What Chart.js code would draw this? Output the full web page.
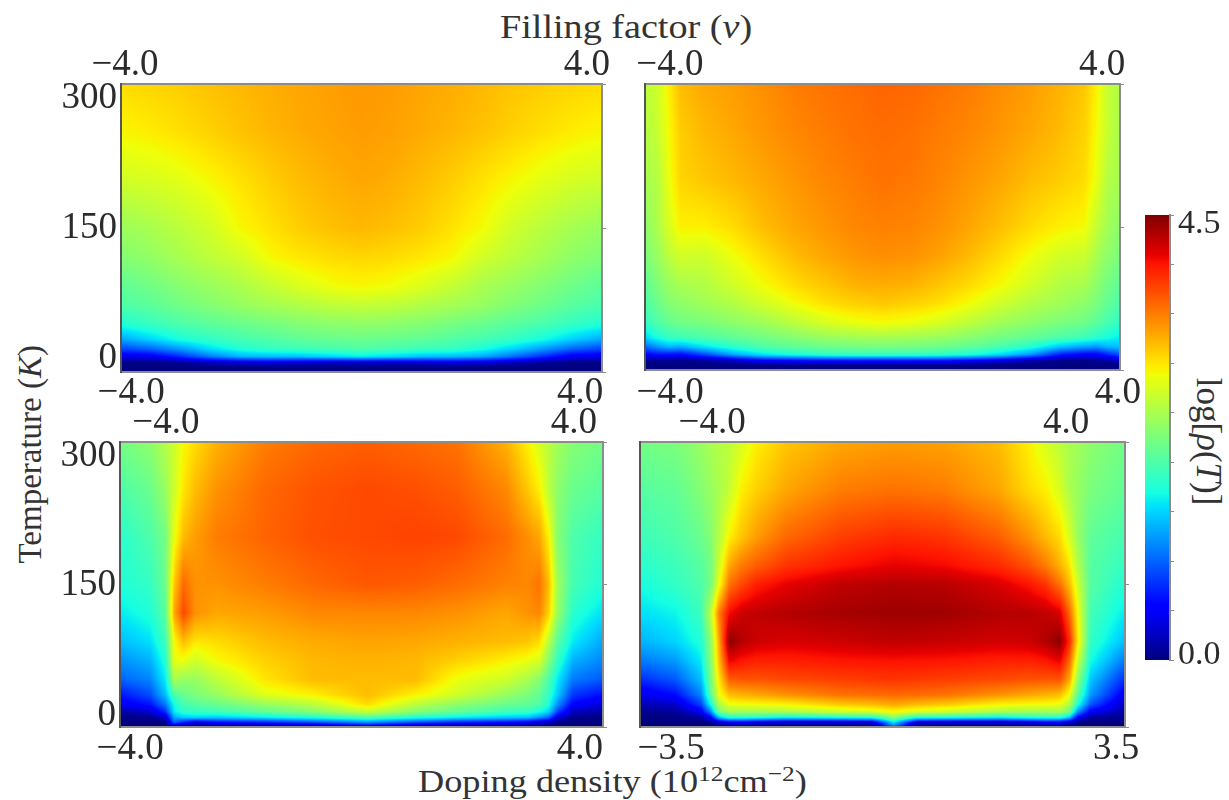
<!DOCTYPE html>
<html>
<head>
<meta charset="utf-8">
<script src="https://cdn.jsdelivr.net/npm/chart.js@4"></script>
<style>
    html, body { margin: 0; background: #fff; }
    body { width: 1229px; height: 800px; position: relative; overflow: hidden; font-family: "Liberation Serif", serif; color: #333; }
    canvas { position: absolute; }
    .label { position: absolute; white-space: nowrap; line-height: 1; }
    .label sup { font-size: 0.7em; line-height: 0; }
</style>
</head>
<body>
<div class="label" style="left:500px; top:11px; font-size:33px; transform-origin:left center; transform:scaleX(1.156);">Filling factor (<i>&nu;</i>)</div>
<div class="label" style="left:-70px; top:447px; width:200px; text-align:center; font-size:33px; transform:rotate(-90deg);">Temperature (<i>K</i>)</div>
<div class="label" style="left:418px; top:766px; font-size:31px; transform-origin:left center; transform:scaleX(1.17);">Doping density (10<sup>12</sup>cm<sup>&minus;2</sup>)</div>
<div class="label" style="left:1138px; top:424px; width:140px; text-align:center; font-size:35px; transform:rotate(90deg);">log[<i>&rho;</i>(<i>T</i>)]</div>

<canvas id="panel1"></canvas>
<canvas id="panel2"></canvas>
<canvas id="panel3"></canvas>
<canvas id="panel4"></canvas>
<canvas id="colorbar"></canvas>

<script>
// temperature nodes, top row first
const tempRows = [300, 250, 200, 150, 120, 90, 70, 50, 34, 24, 16, 10, 5, 0];
const tempRowsHot = [300, 250, 200, 170, 150, 120, 90, 70, 50, 34, 24, 16, 10, 5, 0];

const doping1 = [-4, -3.5, -3, -2.5, -2, -1.5, -1, -0.5, 0, 0.5, 1, 1.5, 2, 2.5, 3, 3.5, 4];
const rho1 = [
    [3.05, 3.08, 3.12, 3.18, 3.22, 3.27, 3.31, 3.34, 3.37, 3.35, 3.31, 3.27, 3.22, 3.16, 3.12, 3.08, 3.05],
    [2.92, 2.97, 3.03, 3.1, 3.17, 3.23, 3.28, 3.32, 3.35, 3.33, 3.28, 3.23, 3.17, 3.1, 3.03, 2.97, 2.92],
    [2.72, 2.75, 2.82, 2.92, 3.02, 3.12, 3.2, 3.26, 3.3, 3.27, 3.2, 3.12, 3.02, 2.92, 2.82, 2.74, 2.7],
    [2.42, 2.5, 2.6, 2.72, 2.92, 3.02, 3.12, 3.18, 3.22, 3.18, 3.12, 3.02, 2.9, 2.7, 2.58, 2.48, 2.4],
    [2.3, 2.38, 2.5, 2.62, 2.72, 2.92, 3.0, 3.05, 3.08, 3.05, 3.0, 2.92, 2.72, 2.6, 2.48, 2.36, 2.28],
    [2.1, 2.2, 2.32, 2.42, 2.52, 2.65, 2.78, 2.88, 2.92, 2.88, 2.78, 2.65, 2.5, 2.4, 2.3, 2.18, 2.08],
    [2.0, 2.08, 2.2, 2.3, 2.4, 2.48, 2.55, 2.62, 2.65, 2.62, 2.55, 2.48, 2.4, 2.28, 2.18, 2.06, 1.98],
    [1.75, 1.88, 2.0, 2.08, 2.15, 2.22, 2.3, 2.34, 2.36, 2.34, 2.3, 2.22, 2.15, 2.06, 1.98, 1.86, 1.75],
    [1.3, 1.5, 1.72, 1.85, 1.95, 2.02, 2.1, 2.14, 2.16, 2.14, 2.1, 2.02, 1.95, 1.85, 1.7, 1.48, 1.3],
    [0.85, 1.0, 1.25, 1.55, 1.75, 1.85, 1.9, 1.95, 2.0, 1.95, 1.9, 1.85, 1.72, 1.5, 1.25, 1.0, 0.85],
    [0.4, 0.45, 0.75, 1.1, 1.35, 1.4, 1.4, 1.5, 1.6, 1.5, 1.4, 1.38, 1.3, 1.05, 0.75, 0.45, 0.4],
    [0.02, 0.03, 0.1, 0.25, 0.35, 0.4, 0.35, 0.3, 0.3, 0.3, 0.35, 0.4, 0.35, 0.25, 0.1, 0.04, 0.02],
    [0, 0, 0, 0, 0, 0.02, 0.02, 0.02, 0.03, 0.02, 0.02, 0.02, 0, 0, 0, 0, 0],
    [0, 0, 0, 0, 0, 0, 0, 0, 0, 0, 0, 0, 0, 0, 0, 0, 0]
];

const doping2 = [-4, -3.8, -3.6, -3.4, -3, -2.5, -2, -1.5, -1, -0.5, 0, 0.5, 1, 1.5, 2, 2.5, 3, 3.4, 3.6, 3.8, 4];
const rho2 = [
    [2.6, 2.7, 2.95, 3.2, 3.3, 3.35, 3.42, 3.5, 3.55, 3.58, 3.62, 3.6, 3.55, 3.5, 3.42, 3.35, 3.25, 3.15, 2.95, 2.65, 2.55],
    [2.55, 2.65, 2.9, 3.12, 3.22, 3.3, 3.38, 3.45, 3.5, 3.55, 3.58, 3.56, 3.5, 3.45, 3.38, 3.3, 3.2, 3.1, 2.9, 2.65, 2.5],
    [2.5, 2.55, 2.85, 3.08, 3.15, 3.22, 3.3, 3.38, 3.45, 3.5, 3.55, 3.52, 3.46, 3.38, 3.3, 3.2, 3.12, 3.05, 2.85, 2.55, 2.5],
    [2.35, 2.5, 2.75, 2.95, 2.95, 3.05, 3.2, 3.3, 3.38, 3.45, 3.48, 3.46, 3.4, 3.3, 3.18, 3.05, 2.95, 2.9, 2.65, 2.45, 2.35],
    [2.25, 2.4, 2.6, 2.72, 2.7, 2.88, 3.05, 3.2, 3.3, 3.38, 3.42, 3.4, 3.32, 3.2, 3.05, 2.88, 2.72, 2.68, 2.5, 2.35, 2.25],
    [2.1, 2.25, 2.4, 2.5, 2.55, 2.72, 2.9, 3.05, 3.15, 3.25, 3.28, 3.25, 3.15, 3.05, 2.9, 2.72, 2.55, 2.5, 2.35, 2.2, 2.1],
    [2.0, 2.15, 2.3, 2.35, 2.45, 2.55, 2.72, 2.88, 3.02, 3.1, 3.14, 3.1, 3.02, 2.88, 2.7, 2.55, 2.45, 2.35, 2.25, 2.1, 2.0],
    [1.85, 2.0, 2.12, 2.2, 2.25, 2.35, 2.45, 2.6, 2.75, 2.85, 2.9, 2.85, 2.75, 2.6, 2.45, 2.35, 2.25, 2.18, 2.08, 1.95, 1.85],
    [1.5, 1.72, 1.85, 1.9, 2.0, 2.1, 2.2, 2.3, 2.4, 2.45, 2.48, 2.45, 2.4, 2.3, 2.2, 2.1, 2.0, 1.9, 1.8, 1.7, 1.6],
    [1.0, 1.2, 1.35, 1.3, 1.55, 1.8, 2.0, 2.08, 2.15, 2.2, 2.22, 2.2, 2.15, 2.08, 1.95, 1.75, 1.4, 1.25, 1.2, 1.35, 1.4],
    [0.5, 0.6, 0.6, 0.55, 0.85, 1.3, 1.55, 1.7, 1.8, 1.85, 1.85, 1.85, 1.8, 1.7, 1.5, 1.2, 0.65, 0.5, 0.5, 0.7, 0.9],
    [0.05, 0.08, 0.08, 0.05, 0.1, 0.3, 0.55, 0.6, 0.65, 0.65, 0.65, 0.65, 0.65, 0.55, 0.4, 0.2, 0.05, 0.05, 0.1, 0.15, 0.3],
    [0, 0, 0, 0, 0, 0, 0.02, 0.03, 0.03, 0.03, 0.03, 0.03, 0.03, 0.02, 0, 0, 0, 0, 0, 0, 0.02],
    [0, 0, 0, 0, 0, 0, 0, 0, 0, 0, 0, 0, 0, 0, 0, 0, 0, 0, 0, 0, 0]
];

const doping3 = [-4, -3.5, -3.25, -3.1, -2.95, -2.75, -2.4, -1.6, -0.8, 0.1, 0.9, 1.6, 2.4, 2.75, 2.95, 3.1, 3.25, 3.5, 4];
const rho3 = [
    [2.2, 2.35, 2.55, 2.7, 2.9, 3.05, 3.25, 3.5, 3.6, 3.65, 3.6, 3.55, 3.25, 2.95, 2.75, 2.6, 2.45, 2.3, 2.2],
    [2.0, 2.15, 2.4, 2.7, 3.0, 3.2, 3.4, 3.6, 3.7, 3.75, 3.72, 3.65, 3.45, 3.15, 2.95, 2.6, 2.35, 2.15, 2.05],
    [1.8, 2.0, 2.2, 2.85, 3.2, 3.35, 3.5, 3.62, 3.72, 3.75, 3.78, 3.75, 3.58, 3.42, 3.3, 2.95, 2.3, 2.0, 1.85],
    [1.75, 1.85, 2.15, 3.15, 3.6, 3.4, 3.4, 3.5, 3.6, 3.68, 3.65, 3.58, 3.48, 3.45, 3.55, 3.2, 2.45, 1.95, 1.75],
    [1.6, 1.75, 2.05, 3.3, 3.75, 3.4, 3.3, 3.35, 3.45, 3.45, 3.45, 3.4, 3.3, 3.4, 3.45, 3.1, 2.4, 1.8, 1.55],
    [1.4, 1.55, 1.9, 2.9, 3.2, 3.0, 3.05, 3.2, 3.28, 3.32, 3.3, 3.25, 3.2, 3.15, 3.05, 2.6, 2.05, 1.6, 1.3],
    [1.2, 1.35, 1.75, 2.85, 2.85, 2.7, 2.9, 3.1, 3.22, 3.25, 3.22, 3.1, 2.95, 2.85, 2.75, 2.3, 1.85, 1.35, 1.15],
    [1.0, 1.15, 1.6, 2.5, 2.4, 2.4, 2.6, 3.0, 3.2, 3.2, 3.2, 2.85, 2.7, 2.5, 2.3, 2.0, 1.6, 1.1, 0.95],
    [0.65, 0.9, 1.4, 2.0, 2.15, 2.25, 2.4, 2.8, 2.95, 3.2, 2.95, 2.7, 2.4, 2.25, 2.1, 1.85, 1.45, 0.8, 0.6],
    [0.45, 0.65, 1.1, 1.7, 1.95, 2.05, 2.15, 2.4, 2.6, 3.05, 2.6, 2.35, 2.15, 2.1, 2.0, 1.75, 1.2, 0.55, 0.35],
    [0.15, 0.3, 0.75, 1.6, 1.8, 1.85, 1.9, 2.1, 2.3, 2.65, 2.3, 2.1, 1.9, 1.85, 1.7, 1.5, 0.85, 0.25, 0.15],
    [0, 0.05, 0.3, 1.3, 1.45, 1.5, 1.45, 1.6, 1.75, 2.0, 1.75, 1.6, 1.45, 1.4, 1.2, 1.0, 0.35, 0.05, 0],
    [0, 0, 0, 1.0, 0.7, 0.4, 0.6, 0.7, 0.9, 1.2, 0.9, 0.7, 0.6, 0.5, 0.35, 0.25, 0.05, 0, 0],
    [0, 0, 0, 0, 0, 0, 0, 0, 0, 0.3, 0, 0, 0, 0, 0, 0, 0, 0, 0]
];

const doping4 = [-3.5, -2.99, -2.62, -2.48, -2.36, -2.21, -2.04, -1.82, -1.39, -0.6, -0.15, 0.16, 0.5, 0.9, 1.68, 2.12, 2.36, 2.56, 2.7, 2.82, 3, 3.5];
const rho4 = [
    [2.2, 2.25, 2.4, 2.5, 2.55, 2.6, 2.75, 2.95, 3.15, 3.3, 3.33, 3.35, 3.34, 3.33, 3.2, 2.95, 2.75, 2.6, 2.5, 2.45, 2.35, 2.2],
    [2.05, 2.1, 2.3, 2.4, 2.5, 2.65, 2.95, 3.1, 3.3, 3.5, 3.53, 3.55, 3.53, 3.5, 3.3, 3.05, 2.95, 2.75, 2.5, 2.4, 2.25, 2.1],
    [1.9, 2.0, 2.15, 2.3, 2.55, 2.95, 3.15, 3.35, 3.6, 3.8, 3.86, 3.9, 3.88, 3.85, 3.65, 3.4, 3.2, 3.05, 2.75, 2.4, 2.1, 1.95],
    [1.8, 1.9, 2.05, 2.2, 2.7, 3.3, 3.5, 3.65, 3.85, 4.0, 4.06, 4.1, 4.08, 4.05, 3.9, 3.7, 3.5, 3.25, 3.0, 2.55, 2.05, 1.85],
    [1.7, 1.85, 2.0, 2.2, 2.85, 3.55, 3.75, 3.95, 4.1, 4.25, 4.28, 4.3, 4.29, 4.28, 4.15, 4.0, 3.85, 3.55, 3.2, 2.7, 2.05, 1.75],
    [1.55, 1.65, 1.9, 2.6, 3.5, 4.05, 4.2, 4.25, 4.3, 4.35, 4.37, 4.38, 4.38, 4.37, 4.3, 4.28, 4.25, 4.15, 3.6, 2.9, 1.95, 1.6],
    [1.35, 1.5, 1.75, 2.35, 3.3, 4.45, 4.3, 4.2, 4.15, 4.2, 4.23, 4.25, 4.24, 4.22, 4.18, 4.2, 4.3, 4.45, 3.9, 3.0, 1.85, 1.4],
    [1.1, 1.25, 1.6, 2.3, 3.2, 4.1, 4.0, 3.95, 3.95, 4.0, 4.01, 4.02, 4.01, 4.0, 3.95, 3.95, 4.0, 4.1, 3.6, 2.7, 1.7, 1.1],
    [0.75, 0.95, 1.4, 2.2, 3.0, 3.65, 3.7, 3.7, 3.75, 3.8, 3.83, 3.85, 3.83, 3.8, 3.75, 3.7, 3.7, 3.7, 3.3, 2.35, 1.45, 0.75],
    [0.4, 0.6, 1.15, 2.05, 2.85, 3.2, 3.25, 3.3, 3.4, 3.55, 3.58, 3.6, 3.58, 3.55, 3.4, 3.3, 3.25, 3.2, 2.85, 2.05, 1.25, 0.45],
    [0.2, 0.3, 0.85, 1.7, 2.55, 2.85, 2.9, 2.9, 2.95, 3.15, 3.22, 3.3, 3.22, 3.15, 2.95, 2.9, 2.9, 2.85, 2.55, 1.75, 0.95, 0.25],
    [0.05, 0.1, 0.45, 1.15, 2.2, 2.45, 2.45, 2.45, 2.5, 2.7, 2.75, 2.9, 2.75, 2.7, 2.5, 2.45, 2.45, 2.45, 2.2, 1.2, 0.5, 0.15],
    [0, 0.02, 0.1, 0.5, 1.4, 1.8, 1.8, 1.75, 1.6, 1.7, 1.75, 2.3, 1.75, 1.7, 1.6, 1.75, 1.8, 1.8, 1.4, 0.5, 0.1, 0.05],
    [0, 0, 0, 0.05, 0.3, 0.5, 0.5, 0.4, 0.3, 0.3, 0.35, 1.6, 0.35, 0.3, 0.3, 0.4, 0.5, 0.5, 0.3, 0.05, 0, 0],
    [0, 0, 0, 0, 0, 0, 0, 0, 0, 0, 0, 0.9, 0, 0, 0, 0, 0, 0, 0, 0, 0, 0]
];

// colorbar
const colorLevels = [4.5, 4, 3.5, 3, 2.5, 2, 1.5, 1, 0.5, 0];
const colorColumns = [0, 1];
const colorMinorTicks = [0, 0.5, 1, 1.5, 2, 2.5, 3, 3.5, 4, 4.5];
const colorLabelTicks = [0, 4.5];

const tempTicks = [0, 150, 300];

const FONT = "Liberation Serif";
const TEXT = "#2b2b2b";
const FRAME = "#8c8c8c";

function lerpTable(f, xs, ys) {
    for (let i = 1; i < xs.length; i++) {
        if (f <= xs[i]) return ys[i - 1] + (ys[i] - ys[i - 1]) * (f - xs[i - 1]) / (xs[i] - xs[i - 1]);
    }
    return ys[ys.length - 1];
}

//The jet colormap, value is log rho between 0 and 4.5
function jet(value) {
    const f = Math.min(1, Math.max(0, value / 4.5));
    return [
        255 * lerpTable(f, [0, 0.35, 0.66, 0.89, 1], [0, 0, 1, 1, 0.5]),
        255 * lerpTable(f, [0, 0.125, 0.375, 0.64, 0.91, 1], [0, 0, 1, 1, 0, 0]),
        255 * lerpTable(f, [0, 0.11, 0.34, 0.65, 1], [0.5, 1, 1, 0, 0])
    ];
}

//Shades the dataset nodes, positions come from the elements Chart.js has laid out
const heatPlugin = {
    id: "heat",
    beforeDatasetsDraw(chart) {
        const meta = chart.getDatasetMeta(0);
        const nCols = chart.data.datasets[0].nCols;
        const points = chart.data.datasets[0].data;
        const nRows = points.length / nCols;
        const xs = [], ys = [];
        for (let c = 0; c < nCols; c++) xs.push(meta.data[c].x);
        for (let r = 0; r < nRows; r++) ys.push(meta.data[r * nCols].y);

        const area = chart.chartArea;
        const left = Math.round(area.left), top = Math.round(area.top);
        const w = Math.round(area.right) - left, h = Math.round(area.bottom) - top;
        const img = chart.ctx.createImageData(w, h);

        let r = 0;
        for (let py = 0; py < h; py++) {
            const yPix = top + py + 0.5;
            while (r < nRows - 2 && yPix > ys[r + 1]) r++;
            const ty = Math.min(1, Math.max(0, (yPix - ys[r]) / (ys[r + 1] - ys[r])));
            let c = 0;
            for (let px = 0; px < w; px++) {
                const xPix = left + px + 0.5;
                while (c < nCols - 2 && xPix > xs[c + 1]) c++;
                const tx = Math.min(1, Math.max(0, (xPix - xs[c]) / (xs[c + 1] - xs[c])));
                const v00 = points[r * nCols + c].v, v01 = points[r * nCols + c + 1].v;
                const v10 = points[(r + 1) * nCols + c].v, v11 = points[(r + 1) * nCols + c + 1].v;
                const v = (v00 * (1 - tx) + v01 * tx) * (1 - ty) + (v10 * (1 - tx) + v11 * tx) * ty;
                const rgb = jet(v);
                const k = (py * w + px) * 4;
                img.data[k] = rgb[0];
                img.data[k + 1] = rgb[1];
                img.data[k + 2] = rgb[2];
                img.data[k + 3] = 255;
            }
        }
        chart.ctx.putImageData(img, left, top);
    }
};

function gridPoints(cols, rows, values) {
    const points = [];
    rows.forEach((row, r) => cols.forEach((col, c) => points.push({x: col, y: row, v: values[r][c]})));
    return points;
}

//A scale that shows a few ticks, sized by hand so the plot area lands where it should
function shownAxis(position, size, min, max, ticks, extra) {
    const horizontal = position === "top" || position === "bottom";
    return Object.assign({
        position: position,
        min: min,
        max: max,
        afterBuildTicks: (scale) => { scale.ticks = ticks.map((v) => ({value: v})); },
        afterFit: (scale) => {
            if (horizontal) scale.height = size; else scale.width = size;
            scale.paddingTop = scale.paddingBottom = scale.paddingLeft = scale.paddingRight = 0;
        },
        grid: {display: false, drawTicks: false},
        border: {display: true, color: FRAME, width: 2, z: 1},
        ticks: {
            autoSkip: false, maxRotation: 0, minRotation: 0,
            color: TEXT, padding: 0,
            font: {family: FONT, size: 37},
            callback: (v) => horizontal
                ? (v < 0 ? "\u2212" : "") + Math.abs(v).toFixed(1)
                : String(v)
        }
    }, extra || {});
}

function placeCanvas(id, plot, margin) {
    const canvas = document.getElementById(id);
    canvas.width = plot.w + margin.l + margin.r;
    canvas.height = plot.h + margin.t + margin.b;
    canvas.style.left = (plot.x - margin.l) + "px";
    canvas.style.top = (plot.y - margin.t) + "px";
    return canvas;
}

function drawPanel(id, cfg) {
    const margin = {l: 75, r: 60, t: 50, b: 50};
    const canvas = placeCanvas(id, cfg.plot, margin);
    const scales = {
        x: {type: "linear", display: false, min: cfg.cols[0], max: cfg.cols[cfg.cols.length - 1]},
        y: {type: "linear", display: false, min: 0, max: 300},
        xBottom: shownAxis("bottom", margin.b, cfg.bottom[0], cfg.bottom[1], cfg.bottom[2], {axis: "x"}),
        xTop: shownAxis("top", margin.t, cfg.top[0], cfg.top[1], cfg.top[2], {axis: "x"}),
        yRight: shownAxis("right", margin.r, 0, 300, tempTicks, {axis: "y"})
    };
    scales.xBottom.ticks.padding = cfg.bottomPad;
    scales.xTop.ticks.padding = -3;
    scales.yRight.ticks.display = false;
    scales.yRight.grid = {display: true, drawOnChartArea: false, tickLength: 4, tickColor: FRAME};
    scales.yLeft = shownAxis("left", margin.l, cfg.leftMin, cfg.leftMax, cfg.leftLabels ? tempTicks : [], {axis: "y"});
    scales.yLeft.ticks.padding = 4;
    scales.yLeft.border.color = "#555";

    new Chart(canvas, {
        type: "scatter",
        data: {datasets: [{data: gridPoints(cfg.cols, cfg.rows, cfg.values), nCols: cfg.cols.length, pointRadius: 0}]},
        options: {
            responsive: false,
            animation: false,
            layout: {padding: 0},
            plugins: {legend: {display: false}, tooltip: {enabled: false}},
            scales: scales
        },
        plugins: [heatPlugin]
    });
}

drawPanel("panel1", {
    plot: {x: 121, y: 84, w: 481, h: 288}, cols: doping1, rows: tempRows, values: rho1,
    bottom: [-4.18, 4.39, [-4, 4]], top: [-4.07, 4.26, [-4, 4]], bottomPad: -1,
    leftMin: -16, leftMax: 316, leftLabels: true
});
drawPanel("panel2", {
    plot: {x: 645, y: 84, w: 475, h: 286}, cols: doping2, rows: tempRows, values: rho2,
    bottom: [-4.45, 4.04, [-4, 4]], top: [-4.46, 4.33, [-4, 4]], bottomPad: 1,
    leftMin: 0, leftMax: 300, leftLabels: false
});
drawPanel("panel3", {
    plot: {x: 120, y: 442, w: 483, h: 285}, cols: doping3, rows: tempRows, values: rho3,
    bottom: [-4.18, 4.41, [-4, 4]], top: [-4.9, 4.57, [-4, 4]], bottomPad: 0,
    leftMin: -14, leftMax: 316, leftLabels: true
});
drawPanel("panel4", {
    plot: {x: 640, y: 442, w: 485, h: 285}, cols: doping4, rows: tempRowsHot, values: rho4,
    bottom: [-3.99, 3.64, [-3.5, 3.5]], top: [-5.63, 5.33, [-4, 4]], bottomPad: 0,
    leftMin: 0, leftMax: 300, leftLabels: false
});

//Colorbar
(function () {
    const margin = {l: 0, r: 60, t: 20, b: 20};
    const canvas = placeCanvas("colorbar", {x: 1145, y: 215, w: 25, h: 445}, margin);
    const values = colorLevels.map((l) => colorColumns.map(() => l));
    const yTicks = shownAxis("right", 5, 0, 4.5, colorMinorTicks, {axis: "y"});
    yTicks.ticks.display = false;
    yTicks.grid = {display: true, drawOnChartArea: false, tickLength: 4, tickColor: FRAME};
    const yLabels = shownAxis("right", 55, -0.05, 4.6, colorLabelTicks, {axis: "y"});
    yLabels.border.display = false;
    yLabels.ticks.padding = 3;
    yLabels.ticks.font = {family: FONT, size: 34};
    yLabels.ticks.callback = (v) => v.toFixed(1);

    new Chart(canvas, {
        type: "scatter",
        data: {datasets: [{data: gridPoints(colorColumns, colorLevels, values), nCols: colorColumns.length, pointRadius: 0}]},
        options: {
            responsive: false,
            animation: false,
            layout: {padding: {top: margin.t, bottom: margin.b}},
            plugins: {legend: {display: false}, tooltip: {enabled: false}},
            scales: {
                x: {type: "linear", display: false, min: 0, max: 1},
                y: {type: "linear", display: false, min: 0, max: 4.5},
                yTicks: yTicks,
                yLabels: yLabels
            }
        },
        plugins: [heatPlugin]
    });
})();
</script>
</body>
</html>
